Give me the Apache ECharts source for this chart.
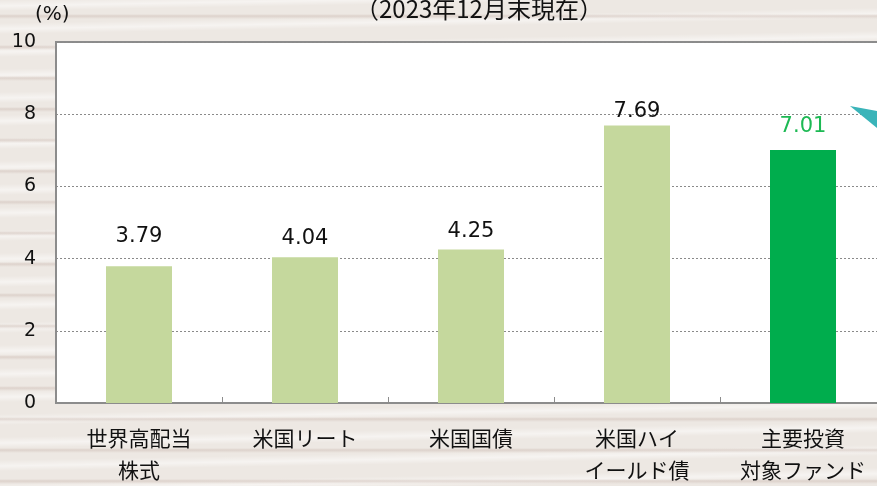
<!DOCTYPE html>
<html>
<head>
<meta charset="utf-8">
<script src="https://cdn.jsdelivr.net/npm/echarts@6/dist/echarts.min.js"></script>
<style>
  html, body { margin: 0; padding: 0; }
  body {
    width: 877px;
    height: 486px;
    overflow: hidden;
    background-color: #ede8e3;
    background-image:
      repeating-linear-gradient(180deg, rgba(200,185,178,0) 0px, rgba(200,185,178,0) 14px, rgba(205,188,180,0.5) 16px, rgba(200,185,178,0) 19px, rgba(200,185,178,0) 31px),
      repeating-linear-gradient(179deg, rgba(255,255,255,0) 0px, rgba(255,255,255,0.5) 6px, rgba(255,255,255,0) 11px, rgba(255,255,255,0) 23px);
  }
  #chart { width: 890px; height: 486px; }
</style>
</head>
<body>
<div id="chart"></div>
<script>
const categories = ["世界高配当\n株式", "米国リート", "米国国債", "米国ハイ\nイールド債", "主要投資\n対象ファンド"];
const yields = [3.79, 4.04, 4.25, 7.69, 7.01];
const yTicks = [0, 2, 4, 6, 8, 10];

// styling per bar (the last one is the fund itself)
const barColors = ["#c5d89d", "#c5d89d", "#c5d89d", "#c5d89d", "#00ad4d"];
const labelColors = ["#111111", "#111111", "#111111", "#111111", "#1db954"];
const labelGaps = [19, 8, 8, 3, 13];

const FONT = "'Noto Sans CJK JP', 'Noto Sans', sans-serif";
const NUM_FONT = "'DejaVu Sans', 'Noto Sans CJK JP', sans-serif";
const chart = echarts.init(document.getElementById("chart"));

chart.setOption({
  animation: false,
  backgroundColor: "transparent",
  grid: {
    left: 56,
    right: 4,
    top: 42,
    bottom: 83,
    show: true,
    backgroundColor: "#ffffff",
    borderColor: "#8c8c8c",
    borderWidth: 2,
  },
  graphic: [
    {
      type: "text",
      left: 355,
      top: -3,
      style: { text: "（2023年12月末現在）", font: `24px ${FONT}`, fill: "#111111" },
    },
    {
      type: "text",
      left: 35,
      top: 5,
      style: { text: "(%)", font: `20px ${NUM_FONT}`, fill: "#111111" },
    },
    {
      type: "polygon",
      shape: { points: [[850, 106], [877, 111], [877, 128]] },
      style: { fill: "#3ab4b9" },
      z: 10,
    },
  ],
  xAxis: {
    type: "category",
    data: categories,
    axisLine: { lineStyle: { color: "#8c8c8c", width: 2 } },
    axisTick: { show: true, inside: true, length: 6, lineStyle: { color: "#8c8c8c", width: 1 } },
    axisLabel: {
      margin: 19,
      fontFamily: FONT,
      fontSize: 21,
      lineHeight: 32,
      color: "#111111",
    },
  },
  yAxis: {
    type: "value",
    min: yTicks[0],
    max: yTicks[yTicks.length - 1],
    interval: 2,
    axisLine: { show: true, lineStyle: { color: "#8c8c8c", width: 2 } },
    axisTick: { show: false },
    axisLabel: { margin: 20, fontFamily: NUM_FONT, fontSize: 19, color: "#111111" },
    splitLine: { lineStyle: { color: "#8a8a8a", type: [2, 2], width: 1 } },
  },
  series: [
    {
      type: "bar",
      barWidth: 66,
      data: yields.map((v, i) => ({
        value: v,
        itemStyle: { color: barColors[i] },
        label: { color: labelColors[i], distance: labelGaps[i] },
      })),
      label: {
        show: true,
        position: "top",
        fontFamily: NUM_FONT,
        fontSize: 21,
        formatter: (p) => p.value.toFixed(2),
      },
    },
  ],
});
</script>
</body>
</html>
